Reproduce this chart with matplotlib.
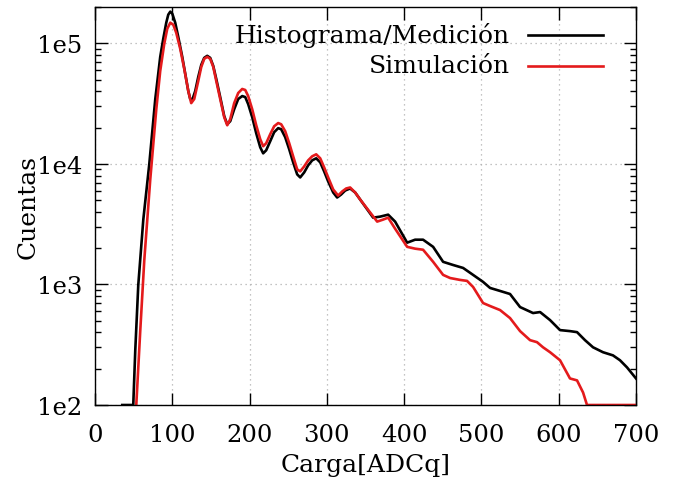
import matplotlib
matplotlib.use("Agg")
import matplotlib.pyplot as plt
from matplotlib.lines import Line2D
from matplotlib.ticker import LogLocator, FixedLocator, FuncFormatter

# Measured histogram (black)
medicion_x = [35.3, 49.5, 52.1, 56.0, 62.5, 70.2, 78.0, 84.4, 88.3, 92.2, 94.8, 97.4, 100.0,
              103.8, 107.7, 112.9, 116.8, 120.7, 123.2, 125.8, 129.7, 133.6, 137.5, 141.3,
              145.2, 149.1, 153.0, 156.9, 162.0, 167.2, 171.1, 175.0, 180.1, 185.3, 190.5,
              194.4, 198.2, 203.4, 208.6, 213.8, 217.6, 221.5, 226.7, 231.8, 237.0, 240.9,
              246.1, 251.3, 256.4, 261.6, 265.5, 270.7, 275.8, 281.0, 286.2, 291.4, 296.5,
              301.7, 308.2, 313.3, 318.5, 323.7, 330.1, 336.6, 343.1,
              359.9, 368.9, 379.3, 388.3, 403.9, 414.2, 424.5, 437.5, 450.4, 463.3, 476.3,
              489.2, 502.1, 511.2, 524.1, 537.0, 550.0, 566.8, 575.9, 588.8, 601.7, 614.6,
              623.7, 634.0, 644.4, 657.3, 670.2, 679.3, 688.4, 700]
medicion_y = [100, 100, 284, 990, 3450, 9900, 34500, 77200, 109000, 148200, 172800, 183000,
              176200, 148200, 113200, 77200, 55700, 40200, 34500, 33800, 40200, 52600, 66200,
              75700, 78700, 75700, 64900, 50600, 35800, 24900, 21300, 22600, 28400, 34500,
              36500, 35800, 31300, 24400, 17950, 13720, 12230, 12960, 15400, 18300, 19770,
              19380, 16630, 13210, 10290, 8180, 7720, 8500, 9720, 10690, 11120, 10290, 8660,
              7150, 5790, 5260, 5570, 6010, 6250, 5790, 5060,
              3580, 3650, 3790, 3320, 2220, 2350, 2350, 2050, 1540, 1450, 1370,
              1200, 1050, 935, 883, 833, 649, 579, 590, 506, 418, 410,
              402, 345, 301, 274, 258, 235, 205, 166]

# Simulation (red)
simulacion_x = [53.4, 58.6, 63.8, 71.5, 79.3, 84.4, 89.6, 93.5, 97.4, 101.3, 105.1, 110.3,
                115.5, 120.7, 124.5, 128.4, 133.6, 137.5, 141.3, 145.2, 149.1, 153.0, 156.9,
                162.0, 167.2, 171.1, 175.0, 180.1, 185.3, 190.5, 194.4, 198.2, 203.4, 208.6,
                213.8, 217.6, 221.5, 226.7, 231.8, 237.0, 240.9, 246.1, 251.3, 256.4, 261.6,
                265.5, 270.7, 275.8, 281.0, 286.2, 291.4, 296.5, 301.7, 308.2, 314.6, 319.8,
                325.0, 330.1, 336.6, 343.1,
                365.1, 372.8, 379.3, 388.3, 403.9, 414.2, 424.5, 437.5, 450.4, 459.5, 472.4,
                481.4, 489.2, 502.1, 511.2, 524.1, 537.0, 550.0, 562.9, 571.9, 579.7, 588.8,
                601.7, 614.6, 623.7, 631.5, 636.6, 700]
simulacion_y = [100, 418, 1600, 7430, 28400, 59000, 99000, 132100, 148200, 142500, 122300,
                89900, 61300, 40200, 31900, 34500, 48700, 63700, 74300, 77200, 74300, 63700,
                48700, 34500, 24400, 20900, 23500, 31900, 38700, 41800, 41000, 36500, 28400,
                20900, 16000, 14000, 14830, 17600, 20500, 21800, 21300, 18660, 14830, 11550,
                9000, 8660, 9530, 10690, 11550, 12000, 11120, 9350, 7720, 6130, 5460, 5900,
                6250, 6370, 5790, 5060,
                3320, 3450, 3580, 2900, 2050, 1980, 1940, 1540, 1200, 1130, 1090,
                1070, 953, 701, 662, 613, 526, 410, 345, 332, 301, 274,
                235, 166, 160, 127, 100, 100]

x_ticks = [0, 100, 200, 300, 400, 500, 600, 700]
y_ticks = [1e2, 1e3, 1e4, 1e5]
y_tick_labels = ["1e2", "1e3", "1e4", "1e5"]
series_labels = ["Histograma/Medición", "Simulación"]
series_colors = ["black", "#e41a1c"]

plt.rcParams['font.family'] = ['DejaVu Serif']
W, H = 680, 485
fig = plt.figure(figsize=(6.8, 4.85), dpi=100)
ax = fig.add_axes([95/W, 1-406/H, (636-95)/W, (406-8)/H])

ax.plot(medicion_x, medicion_y, color=series_colors[0], lw=1.9)
ax.plot(simulacion_x, simulacion_y, color=series_colors[1], lw=1.9)

ax.set_yscale('log')
ax.set_xlim(0, 700)
ax.set_ylim(100, 2e5)
ax.xaxis.set_major_locator(FixedLocator(x_ticks))
ax.yaxis.set_major_locator(FixedLocator(y_ticks))
ax.yaxis.set_major_formatter(FuncFormatter(lambda v, p: y_tick_labels[y_ticks.index(v)] if v in y_ticks else ""))
ax.yaxis.set_minor_locator(LogLocator(base=10, subs=range(2, 10)))
ax.yaxis.set_minor_formatter(FuncFormatter(lambda v, p: ""))

ax.tick_params(which='both', direction='in', top=True, right=True, labelsize=17.5, width=1)
ax.tick_params(which='major', length=9)
ax.tick_params(axis='x', which='major', pad=13)
ax.tick_params(axis='y', which='major', pad=9)
ax.tick_params(which='minor', length=4.5)
ax.grid(True, which='major', linestyle=(0, (1, 3)), color='#b0b0b0', lw=0.9)
for s in ax.spines.values():
    s.set_linewidth(1)

ax.set_xlabel('Carga[ADCq]', fontsize=18, labelpad=5)
ax.set_ylabel('Cuentas', fontsize=18, labelpad=-2)

# gnuplot-style key: right-justified text followed by the line sample
key_rows = [36, 67]
for lab, col, yp in zip(series_labels, series_colors, key_rows):
    fig.text(510/W, 1-yp/H, lab, ha='right', va='center', fontsize=18)
    fig.add_artist(Line2D([528/W, 603/W], [1-yp/H, 1-yp/H], color=col, lw=1.9,
                          transform=fig.transFigure))

fig.savefig('out.png', dpi=100)
